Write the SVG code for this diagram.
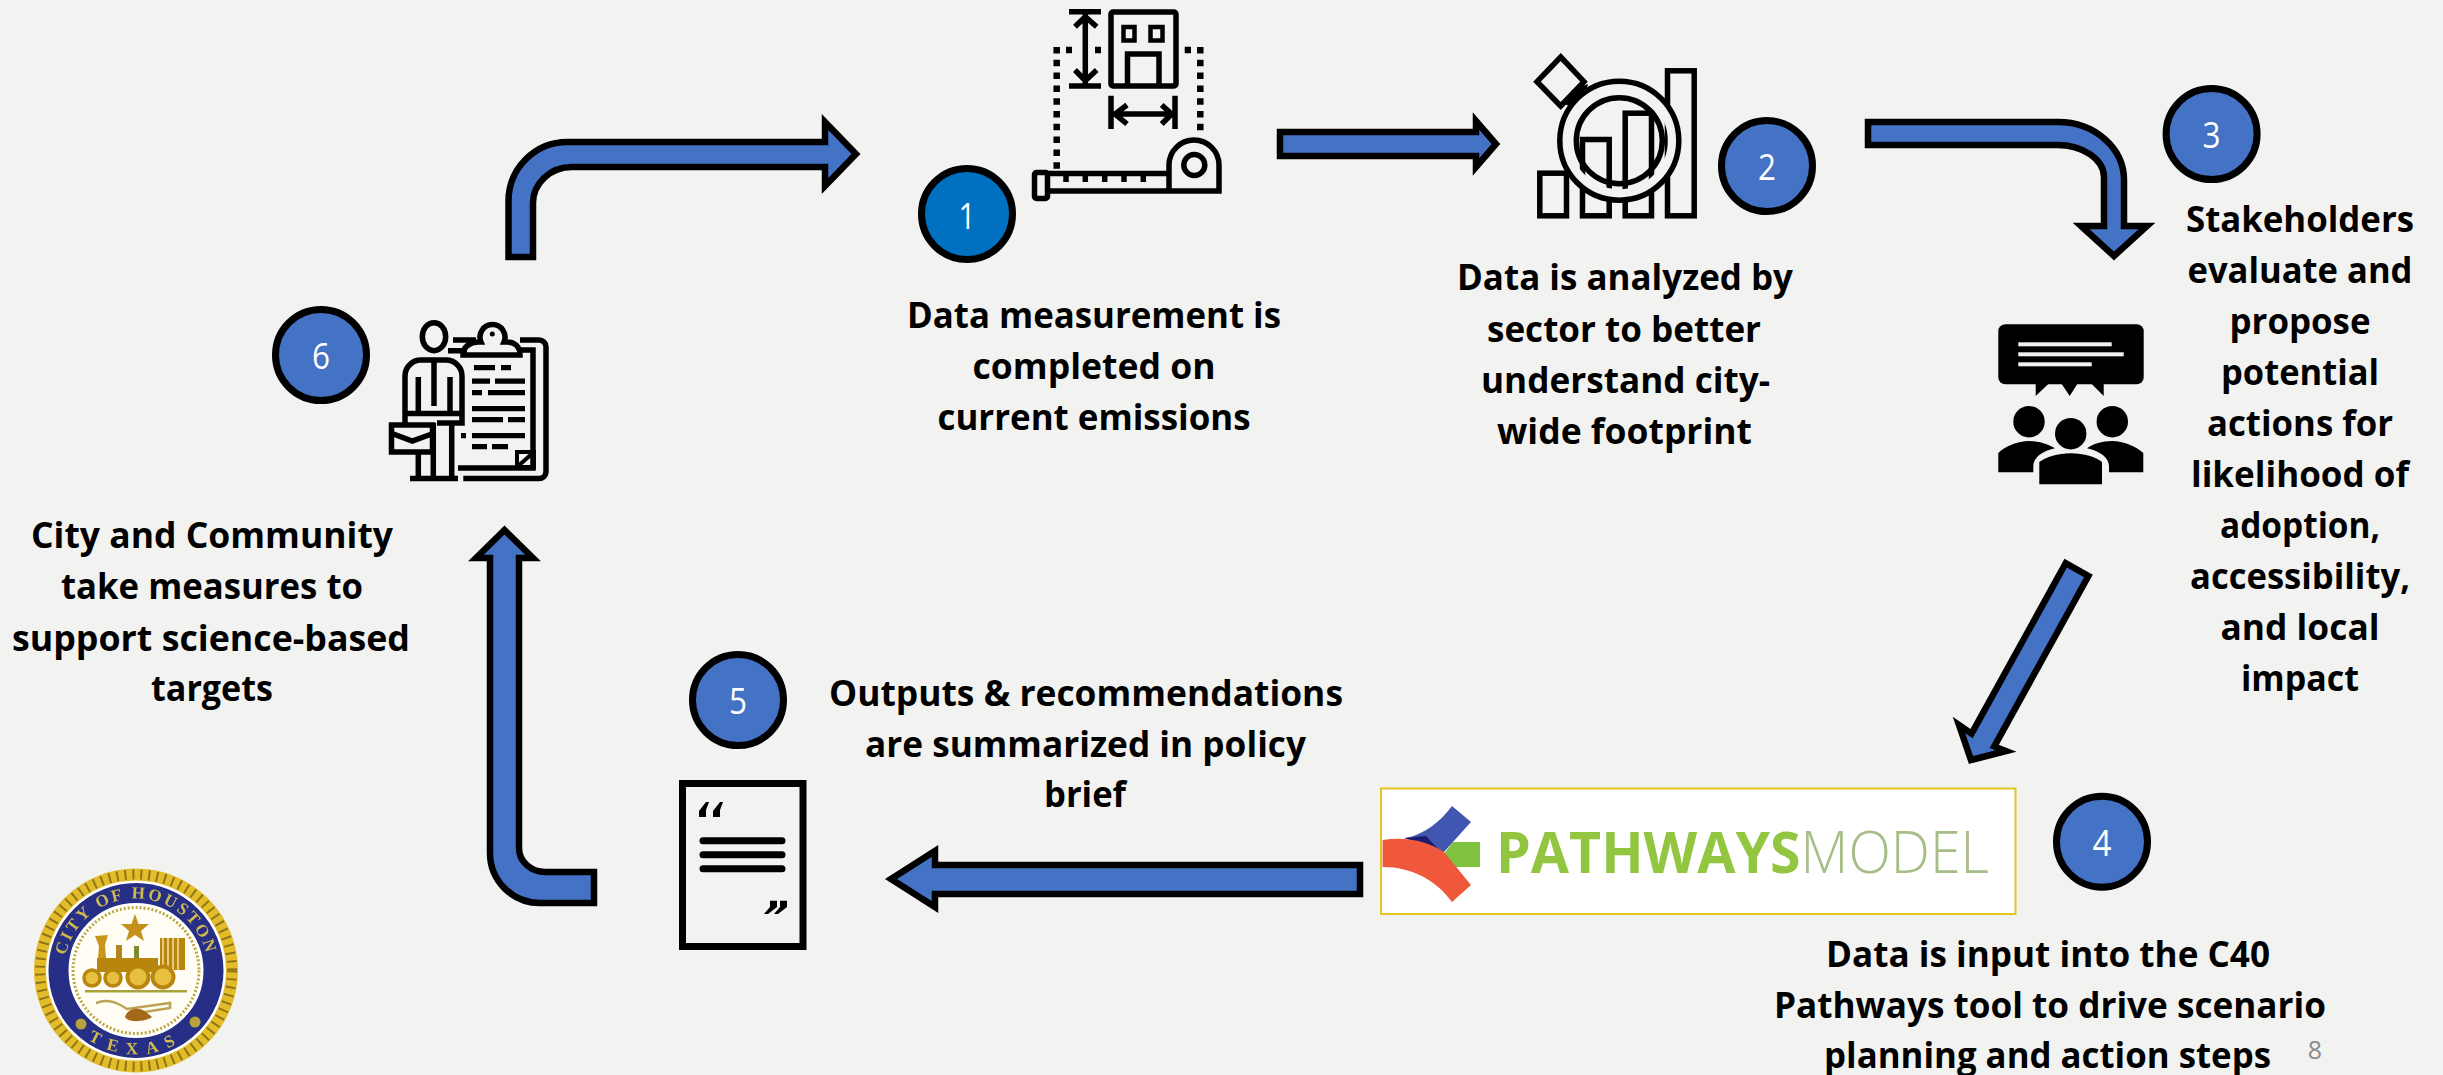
<svg xmlns="http://www.w3.org/2000/svg" width="2443" height="1075" viewBox="0 0 2443 1075">
<style>
.arrow{fill:#4472C4;stroke:#000;stroke-width:6.5;stroke-miterlimit:10}
.badge{fill:#4472C4;stroke:#000;stroke-width:7}
.num{font-family:"Open Sans","Liberation Sans",sans-serif;font-size:37px;fill:#fff;text-anchor:middle}
.lbl{font-family:"Open Sans","Liberation Sans",sans-serif;font-weight:700;font-size:36.5px;fill:#000;text-anchor:middle}
.ln{fill:none;stroke:#000}
.bar{fill:#000}
.bg{fill:#F2F2F1}
.seal{font-family:"Liberation Serif",serif;font-weight:700;fill:#CDBB50}
</style>
<defs>
<filter id="soft" x="-5%" y="-5%" width="110%" height="110%"><feGaussianBlur stdDeviation="0.7"/></filter>
<filter id="soft2" x="-5%" y="-5%" width="110%" height="110%"><feGaussianBlur stdDeviation="0.5"/></filter>
<path id="arcTop" d="M70 999.3A72 72 0 1 1 202 999.3"/>
<path id="arcBot" d="M60 1006A84 84 0 0 0 212 1006"/>
</defs>
<rect width="2443" height="1075" class="bg"/>

<g id="connectors">
<path class="arrow" d="M508.5 257V201A59 59 0 0 1 567.5 142H825V122L856 154L825 186V167H572A39 36 0 0 0 533 203V257Z"/>
<path class="arrow" d="M1280 132H1476V121L1496 144L1476 167V156H1280Z"/>
<path class="arrow" d="M1868 122H2058A66 58 0 0 1 2124 180V226H2147L2114 256L2081 226H2104V177A47 32 0 0 0 2057 145H1868Z"/>
<path class="arrow" d="M2088.4 576L1994.3 746.4L2006 751L1971 760L1959 725L1971.6 733.6L2065.700 563.2Z"/>
<path class="arrow" d="M1360 865H935V851L891 879L935 907V894H1360Z"/>
<path class="arrow" d="M504.5 530L533 558H519V848A26 24 0 0 0 545 872H594V903H540A50 50 0 0 1 490 853V558H476Z"/>
</g>

<g id="node-1">
<g filter="url(#soft2)" stroke-width="5.5">
<rect class="ln" x="1111" y="12" width="65" height="74" rx="2"/>
<rect class="ln" x="1123.5" y="27" width="11" height="13.5" stroke-width="4.5"/>
<rect class="ln" x="1150.5" y="27" width="12" height="13.5" stroke-width="4.5"/>
<path class="ln" d="M1127.5 85V54H1159V85"/>
<path class="ln" d="M1069 11.7H1101M1069 86H1101M1085.3 14V84M1075 26.7L1085.3 16.7L1096.7 26.7M1075 70L1085.3 80.7L1096.7 70"/>
<path class="ln" d="M1111 95.7V129M1175 95.7V129M1113 114H1173M1127 105L1115 114L1127 124M1161.7 105L1171.700 114L1161.7 124"/>
<path class="ln" stroke-width="6.5" stroke-dasharray="6.5 6.3" d="M1056.7 47V172"/>
<path class="ln" stroke-width="6.5" stroke-dasharray="6.5 6.3" d="M1200.3 47V131"/>
<path class="ln" stroke-width="6.5" d="M1066 50H1072M1095 50H1101M1184.7 50H1191"/>
<path class="ln" d="M1046 173.5H1167M1046 191H1219V165A25 25 0 0 0 1169 165V190"/>
<path class="ln" d="M1066 173V182M1085.3 173V182M1104.7 173V182M1124 173V182M1143.3 173V182"/>
<rect class="ln" x="1034.5" y="172.500" width="13" height="26" rx="2"/>
<circle class="ln" cx="1194.3" cy="165" r="10.5"/>
</g>
<circle cx="967" cy="214" r="45.5" fill="#0070C0" stroke="#000" stroke-width="7"/>
<text class="num" x="967" y="229" textLength="17" lengthAdjust="spacingAndGlyphs">1</text>
<text class="lbl" x="1094" y="328" textLength="374" lengthAdjust="spacingAndGlyphs">Data measurement is</text>
<text class="lbl" x="1094" y="379" textLength="243" lengthAdjust="spacingAndGlyphs">completed on</text>
<text class="lbl" x="1094" y="430" textLength="313" lengthAdjust="spacingAndGlyphs">current emissions</text>
</g>

<g id="node-2">
<g filter="url(#soft2)" stroke-width="5.5">
<rect class="ln" x="1539.8" y="173.2" width="26.7" height="42.6"/>
<rect class="ln" x="1582.5" y="139.5" width="26.7" height="76.3"/>
<rect class="ln" x="1625.2" y="113.2" width="26.3" height="102.6"/>
<rect class="ln" x="1667.5" y="70.8" width="26.7" height="145"/>
<path d="M1560.7 57L1584 81.7L1560.7 106L1537 81.7Z" fill="#F2F2F1" stroke="#000" stroke-width="5.5"/>
<path d="M1572 90L1588 84L1582 108L1566 105Z" fill="#000"/>
<circle cx="1619.3" cy="140.7" r="54" fill="none" stroke="#F2F2F1" stroke-width="11"/>
<circle class="ln" cx="1619.3" cy="140.7" r="59.5"/>
<circle class="ln" cx="1619.3" cy="140.7" r="43"/>
</g>
<circle class="badge" cx="1767" cy="166" r="45.5"/>
<text class="num" x="1767" y="180" textLength="18" lengthAdjust="spacingAndGlyphs">2</text>
<text class="lbl" x="1625" y="290" textLength="336" lengthAdjust="spacingAndGlyphs">Data is analyzed by</text>
<text class="lbl" x="1624" y="342" textLength="274" lengthAdjust="spacingAndGlyphs">sector to better</text>
<text class="lbl" x="1625.5" y="393" textLength="289" lengthAdjust="spacingAndGlyphs">understand city-</text>
<text class="lbl" x="1624.5" y="444" textLength="255" lengthAdjust="spacingAndGlyphs">wide footprint</text>
</g>

<g id="node-3">
<g filter="url(#soft2)">
<rect class="bar" x="1998.3" y="324.3" width="145.4" height="60" rx="7"/>
<path class="bar" d="M2035.7 384L2035.7 396L2048.3 384ZM2061.7 384L2069.7 396L2077.3 384ZM2091.7 384L2103.7 396L2103.7 384Z"/>
<rect class="bg" x="2018.3" y="342.3" width="93.4" height="4"/>
<rect class="bg" x="2018.3" y="352.3" width="105.4" height="4"/>
<rect class="bg" x="2018.3" y="362.3" width="73.4" height="4"/>
<circle class="bar" cx="2029" cy="421.7" r="15.7"/>
<circle class="bar" cx="2112.3" cy="421.7" r="15.7"/>
<circle class="bar" cx="2070.7" cy="433.7" r="15.7"/>
<path class="bar" d="M1998.3 472.3V453C2005 446 2018 441 2029 441C2039 441 2048 444 2055 448.3C2042 451 2033.3 458 2033.3 466V472.3Z"/>
<path class="bar" d="M2143.3 472.3V453C2136 446 2123 441 2112.3 441C2102 441 2093 444 2087 448.3C2100 451 2109 458 2109 466V472.3Z"/>
<path class="bar" d="M2039.3 484.3V462C2046 457 2058 453.3 2070.7 453.3C2084 453.3 2096 457 2102 462V484.3Z"/>
</g>
<circle class="badge" cx="2211.6" cy="134" r="45.5"/>
<text class="num" x="2211.6" y="148" textLength="18" lengthAdjust="spacingAndGlyphs">3</text>
<text class="lbl" x="2300" y="232" textLength="228" lengthAdjust="spacingAndGlyphs">Stakeholders</text>
<text class="lbl" x="2300" y="283" textLength="225" lengthAdjust="spacingAndGlyphs">evaluate and</text>
<text class="lbl" x="2300" y="334" textLength="141" lengthAdjust="spacingAndGlyphs">propose</text>
<text class="lbl" x="2300" y="385" textLength="158" lengthAdjust="spacingAndGlyphs">potential</text>
<text class="lbl" x="2300" y="436" textLength="186" lengthAdjust="spacingAndGlyphs">actions for</text>
<text class="lbl" x="2300" y="487" textLength="218" lengthAdjust="spacingAndGlyphs">likelihood of</text>
<text class="lbl" x="2300" y="538" textLength="160" lengthAdjust="spacingAndGlyphs">adoption,</text>
<text class="lbl" x="2300" y="589" textLength="220" lengthAdjust="spacingAndGlyphs">accessibility,</text>
<text class="lbl" x="2300" y="640" textLength="159" lengthAdjust="spacingAndGlyphs">and local</text>
<text class="lbl" x="2300" y="691" textLength="118" lengthAdjust="spacingAndGlyphs">impact</text>
</g>

<g id="node-4">
<rect x="1381" y="788.5" width="634.5" height="125.5" fill="#fff" stroke="#E2C520" stroke-width="2"/>
<g filter="url(#soft)">
<path d="M1443.6 854L1453 842H1480V867H1453Z" fill="#7FC23F"/>
<path d="M1452 806L1471 822L1443 853L1406 838C1425 834 1440 822 1452 806Z" fill="#4057B0"/>
<path d="M1404 838L1441 852L1426 836Z" fill="#1D1F6E"/>
<path d="M1382.6 840C1405 836 1428 841 1444 852L1471 885L1452 902C1436 880 1412 867 1382.6 867Z" fill="#F0583A"/>
<text x="1496" y="873" font-family="'Open Sans','Liberation Sans',sans-serif" font-size="58" textLength="493" lengthAdjust="spacingAndGlyphs"><tspan font-weight="700" fill="#93C63F">PATHWAYS</tspan><tspan font-weight="300" fill="#A7BD88">MODEL</tspan></text>
</g>
<circle class="badge" cx="2102" cy="841.7" r="45.5"/>
<text class="num" x="2102" y="856" textLength="19" lengthAdjust="spacingAndGlyphs">4</text>
<text class="lbl" x="2048" y="967" textLength="444" lengthAdjust="spacingAndGlyphs">Data is input into the C40</text>
<text class="lbl" x="2050" y="1018" textLength="552" lengthAdjust="spacingAndGlyphs">Pathways tool to drive scenario</text>
<text class="lbl" x="2047.5" y="1068" textLength="447" lengthAdjust="spacingAndGlyphs">planning and action steps</text>
</g>

<g id="node-5">
<g filter="url(#soft2)">
<rect x="682.5" y="783.5" width="120.5" height="163" fill="none" stroke="#000" stroke-width="7"/>
<path d="M703 840.7H782M703 854.7H782M703 868.7H782" fill="none" stroke="#000" stroke-width="7" stroke-linecap="round"/>
<path class="bar" d="M706 802L699 811V817H706V810L709 802ZM720 802L713 811V817H720V810L723 802Z"/>
<path class="bar" d="M770 900.7H777V907L768 914H764L770 907ZM780 900.7H787V907L778 914H774L780 907Z"/>
</g>
<circle class="badge" cx="738" cy="700" r="45.5"/>
<text class="num" x="738" y="714" textLength="18" lengthAdjust="spacingAndGlyphs">5</text>
<text class="lbl" x="1086" y="706" textLength="514" lengthAdjust="spacingAndGlyphs">Outputs &amp; recommendations</text>
<text class="lbl" x="1085.5" y="757" textLength="441" lengthAdjust="spacingAndGlyphs">are summarized in policy</text>
<text class="lbl" x="1085" y="807" textLength="82" lengthAdjust="spacingAndGlyphs">brief</text>
</g>

<g id="node-6">
<g filter="url(#soft2)" stroke-width="5.5">
<ellipse class="ln" cx="434" cy="336.7" rx="11.7" ry="14"/>
<path class="ln" d="M453 340H476M448 350.7H467"/>
<path class="ln" d="M463 355C463 347 470 342 478 342H481A12.5 12.5 0 1 1 504 342H507C515 342 520 347 520 355Z"/>
<path class="ln" d="M520 340H539A7 7 0 0 1 546 347V472A7 7 0 0 1 539 478.5H463.3M521 350H533V468H458"/>
<circle cx="492.3" cy="334" r="2.5" class="bar"/>
<path class="ln" d="M405 423V376A16 16 0 0 1 421 360H446A16 16 0 0 1 462 376V423H437M405 413.5H462M418.3 377V413M450 377V413M434 362V406M418.3 453V476M433.3 423V476M451.7 423V476M410 478.5H458"/>
<rect class="ln" x="391.5" y="425" width="41" height="27"/>
<path class="ln" d="M392 433.5L412.3 441L433 433.5"/>
<path class="bar" d="M474 365H495V370.300H474ZM501 365H511V370.300H501ZM472 378.500H490V383.800H472ZM495 378.500H525V383.800H495ZM472 390H482V395.300H472ZM488 390H525V395.300H488ZM472 406H525V411.300H472ZM472 417H503V422.300H472ZM508 417H525V422.300H508ZM461 433H466V438.300H461ZM472 433H525V438.300H472ZM472 444H487V449.300H472ZM492 444H508V449.300H492Z"/>
<rect class="ln" x="517" y="452" width="17" height="15" stroke-width="4"/>
<path class="ln" stroke-width="4" d="M517 467L534 452"/>
</g>
<circle class="badge" cx="321" cy="355" r="45.5"/>
<text class="num" x="321" y="369" textLength="18" lengthAdjust="spacingAndGlyphs">6</text>
<text class="lbl" x="212" y="548" textLength="362" lengthAdjust="spacingAndGlyphs">City and Community</text>
<text class="lbl" x="212" y="599" textLength="302" lengthAdjust="spacingAndGlyphs">take measures to</text>
<text class="lbl" x="211" y="651" textLength="398" lengthAdjust="spacingAndGlyphs">support science-based</text>
<text class="lbl" x="212" y="701" textLength="122" lengthAdjust="spacingAndGlyphs">targets</text>
</g>

<g id="seal" filter="url(#soft)">
<circle cx="136" cy="970.5" r="96" fill="#fff" stroke="#E3BC2B" stroke-width="12"/>
<circle cx="136" cy="970.5" r="96" fill="none" stroke="#8F7414" stroke-width="10" stroke-dasharray="2 6"/>
<circle cx="136" cy="970.5" r="77.500" fill="#fff" stroke="#262D86" stroke-width="20"/>
<circle cx="136" cy="970.5" r="63" fill="#FFFDF4" stroke="#BBA73F" stroke-width="3" stroke-dasharray="2 2"/>
<text class="seal" font-size="17" letter-spacing="2.500" text-anchor="middle"><textPath href="#arcTop" startOffset="50%">CITY OF HOUSTON</textPath></text>
<text class="seal" font-size="17" letter-spacing="9" text-anchor="middle"><textPath href="#arcBot" startOffset="50%">TEXAS</textPath></text>
<circle cx="81" cy="1024" r="5.500" fill="#B7A23C"/>
<circle cx="195" cy="1022" r="5.500" fill="#B7A23C"/>
<path d="M135 914L138.500 924H149L141 931L144 941L135 935L126 941L129 931L121 924H131.500Z" fill="#C4921B"/>
<path d="M95 936L108 935L105 945L106 958H98L99 946Z" fill="#C8961A"/>
<rect x="116" y="945" width="6" height="13" fill="#B5851A"/>
<rect x="134" y="946" width="5" height="12" fill="#7E8A33"/>
<rect x="97" y="958" width="61" height="14" fill="#B9860F"/>
<rect x="160" y="938" width="25" height="32" fill="#B9860F"/>
<path d="M163 938V970M168 938V970M173 938V970M178 938V970" stroke="#F1DFA0" stroke-width="1.500" fill="none"/>
<circle cx="138" cy="977" r="10.500" fill="#E8C040" stroke="#B9860F" stroke-width="4"/>
<circle cx="163" cy="977" r="10.500" fill="#E8C040" stroke="#B9860F" stroke-width="4"/>
<circle cx="92" cy="978" r="8" fill="#E8C040" stroke="#B9860F" stroke-width="3.500"/>
<circle cx="113" cy="978" r="8" fill="#E8C040" stroke="#B9860F" stroke-width="3.500"/>
<rect x="85" y="990" width="102" height="2.500" fill="#A9A13A"/>
<path d="M96 1003C108 998 118 1003 127 1009L170 1003V1008L132 1014" fill="none" stroke="#BBA352" stroke-width="2.500"/>
<path d="M125 1017C128 1007 140 1007 146 1012L152 1017C145 1022 128 1023 125 1017Z" fill="#A2691D"/>
</g>

<text id="page-number" x="2315" y="1059" font-family="'Open Sans','Liberation Sans',sans-serif" font-size="25" fill="#898989" text-anchor="middle">8</text>
</svg>
